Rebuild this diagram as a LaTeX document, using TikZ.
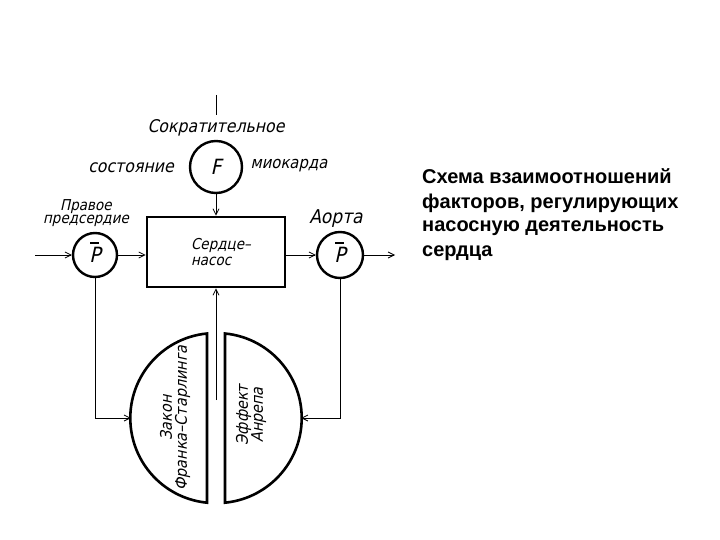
\documentclass[tikz,border=0pt]{standalone}
\usepackage{fontspec}
\setmainfont{Liberation Sans}
\newfontfamily\lab{DejaVu Sans Condensed}[FakeSlant=0.22]
\usetikzlibrary{arrows.meta}
\tikzset{
  wire/.style={line width=0.9pt, black},
  arr/.style={wire, -{Straight Barb[length=6pt,width=6pt,line width=0.8pt]}},
  ring/.style={circle, draw, line width=2.4pt, inner sep=0pt},
  pumpbox/.style={draw, line width=2.8pt, minimum width=138pt, minimum height=70pt, inner sep=0pt},
  disc/.style={draw, line width=2.6pt, fill=white},
  lbl/.style={font=\lab\fontsize{16}{15}\selectfont, inner sep=0pt},
  sym/.style={font=\lab\fontsize{21}{21}\selectfont},
  bar/.style={line width=1.3pt},
  note/.style={font=\fontsize{20}{24}\selectfont\bfseries, anchor=base west, inner sep=0pt}
}
\begin{document}
\begin{tikzpicture}[x=1pt,y=-1pt]
\useasboundingbox[fill=white] (0,0) rectangle (720,540);

% half discs
\draw[disc] (207,333.5) arc[start angle=95.6, end angle=264.4, radius=85pt] -- cycle;
\draw[disc] (225,333.5) arc[start angle=84.4, end angle=-84.4, radius=85pt] -- cycle;
\coordinate (FSl) at (131,418);
\coordinate (ARr) at (301,418);

% nodes
\node[ring, minimum size=52pt, sym] (F) at (216,167) {F};
\node[pumpbox, lbl, font=\lab\fontsize{15}{15.5}\selectfont, align=left] (pump) at (216,252) {\hspace*{10pt}Сердце–\\\hspace*{10pt}насос};
\node[ring, minimum size=44pt, sym] (PL) at (95,255) {P};
\node[ring, minimum size=46pt, sym] (PR) at (340,255) {P};
\draw[bar] ([xshift=-5pt,yshift=12pt]PL.center) -- ([xshift=4pt,yshift=12pt]PL.center);
\draw[bar] ([xshift=-5pt,yshift=12pt]PR.center) -- ([xshift=4pt,yshift=12pt]PR.center);

% labels
\node[lbl, font=\lab\fontsize{17.5}{15}\selectfont] (sokr) at (216,128) {Сократительное};
\node[lbl, font=\lab\fontsize{17.5}{15}\selectfont] (sost) at (131,168) {состояние};
\node[lbl, font=\lab\fontsize{16.5}{15}\selectfont] (miok) at (289,166) {миокарда};
\node[lbl, font=\lab\fontsize{15}{13.5}\selectfont, align=center] (prav) at (86,213) {Правое\\предсердие};
\node[lbl, font=\lab\fontsize{19}{15}\selectfont] (aorta) at (336,219) {Аорта};
\node[lbl, rotate=90, align=center] (fs) at (175,418) {Закон\\Франка–Старлинга};
\node[lbl, rotate=90, align=center] (ae) at (251,415) {Эффект\\Анрепа};

% connectors
\coordinate (top) at (216,95);
\coordinate (topend) at (216,115);
\draw[wire] (top) -- (topend);
\draw[arr] (F) -- (pump);
\coordinate (in) at (35,255);
\draw[arr] (in) -- (PL);
\draw[arr] (PL) -- (pump.west |- PL);
\draw[arr] (pump.east |- PR) -- (PR);
\coordinate (out) at (395,255);
\draw[arr] (PR) -- (out);
\draw[arr] (PL.south) |- (FSl);
\draw[arr] (PR.south) |- (ARr);
\coordinate (cb) at (216,400);
\draw[arr] (cb) -- (pump.south);

% note
\node[note] (t1) at (422,184) {Схема взаимоотношений};
\node[note] (t2) at (422,208) {факторов, регулирующих};
\node[note] (t3) at (422,232) {насосную деятельность};
\node[note] (t4) at (422,256) {сердца};
\end{tikzpicture}
\end{document}
